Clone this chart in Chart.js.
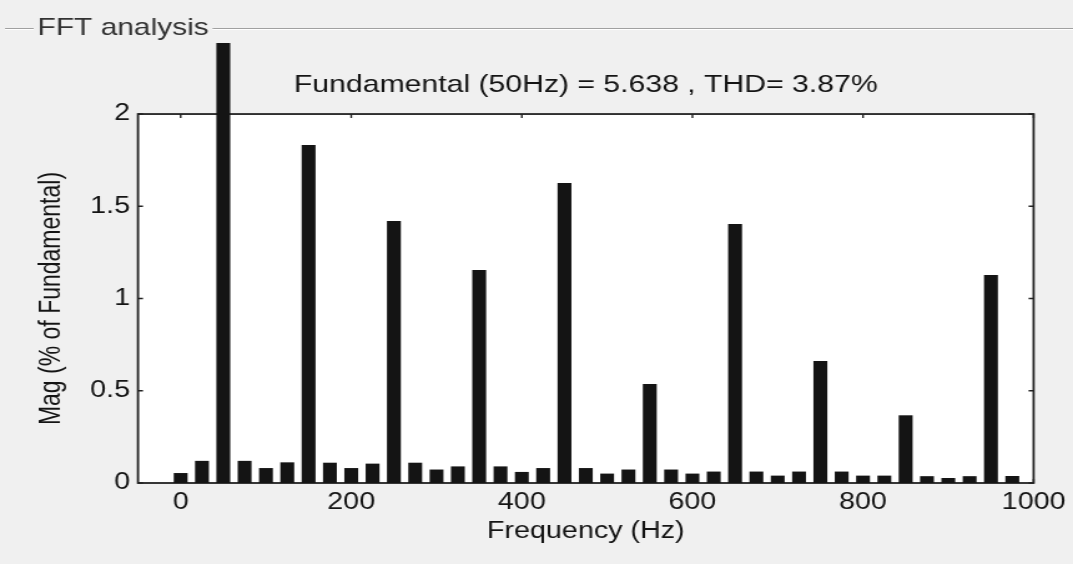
<!DOCTYPE html>
<html>
<head>
<meta charset="utf-8">
<script src="https://cdn.jsdelivr.net/npm/chart.js@4/dist/chart.umd.min.js"></script>
<style>
  html, body { margin: 0; padding: 0; background: #f0f0f0; overflow: hidden; }
</style>
</head>
<body>
<!-- the reference figure is stretched sideways, so the bitmap is too -->
<canvas id="fft" width="860" height="564" style="display:block;width:1073px;height:564px"></canvas>
<script>
// harmonic frequencies (Hz)
const freqs = [0, 25, 50, 75, 100, 125, 150, 175, 200, 225,
               250, 275, 300, 325, 350, 375, 400, 425, 450, 475,
               500, 525, 550, 575, 600, 625, 650, 675, 700, 725,
               750, 775, 800, 825, 850, 875, 900, 925, 950, 975];

// magnitude, % of fundamental (50 Hz bar is cut off in the picture)
const mags = [0.054, 0.12, 2.385, 0.12, 0.081, 0.112, 1.832, 0.11, 0.081, 0.105,
              1.42, 0.11, 0.073, 0.09, 1.154, 0.09, 0.06, 0.081, 1.626, 0.081,
              0.051, 0.073, 0.537, 0.073, 0.051, 0.062, 1.404, 0.062, 0.04, 0.062,
              0.661, 0.062, 0.04, 0.04, 0.367, 0.037, 0.027, 0.037, 1.127, 0.038];

const xTicks = [0, 200, 400, 600, 800, 1000];
const yTicks = [0, 0.5, 1, 1.5, 2];

const panelTitle = 'FFT analysis';
const chartTitle = 'Fundamental (50Hz) = 5.638 , THD= 3.87%';

const FONT = '"Liberation Sans", Arial, Helvetica, sans-serif';
const INK = '#141414';

// grey panel, etched frame line, white axes box
const panelFrame = {
    id: 'panelFrame',
    beforeDraw(chart) {
        const { ctx, chartArea: a } = chart;
        ctx.save();
        ctx.fillStyle = '#f0f0f0';
        ctx.fillRect(0, 0, chart.width, chart.height);

        ctx.font = '24px ' + FONT;
        ctx.textBaseline = 'middle';
        const tx = 30;
        const tw = ctx.measureText(panelTitle).width;
        ctx.fillStyle = '#a0a0a0';
        ctx.fillRect(4, 28, tx - 7, 1);
        ctx.fillRect(tx + tw + 3, 28, chart.width - tx - tw - 3, 1);
        ctx.fillStyle = '#ffffff';
        ctx.fillRect(4, 29, tx - 7, 1);
        ctx.fillRect(tx + tw + 3, 29, chart.width - tx - tw - 3, 1);
        ctx.fillStyle = '#333';
        ctx.fillText(panelTitle, tx, 28);

        ctx.fillStyle = '#ffffff';
        ctx.fillRect(a.left, a.top, a.right - a.left, a.bottom - a.top);
        ctx.restore();
    },
    beforeDatasetsDraw(chart) {
        const { ctx, chartArea: a, scales } = chart;
        ctx.save();
        ctx.strokeStyle = '#222';
        ctx.lineWidth = 1.8;
        ctx.strokeRect(a.left, a.top, a.right - a.left, a.bottom - a.top);
        ctx.lineWidth = 1.4;
        ctx.beginPath();
        xTicks.forEach(v => {
            const px = scales.x.getPixelForValue(v);
            ctx.moveTo(px, a.bottom); ctx.lineTo(px, a.bottom - 4);
            ctx.moveTo(px, a.top); ctx.lineTo(px, a.top + 4);
        });
        yTicks.forEach(v => {
            const py = scales.y.getPixelForValue(v);
            ctx.moveTo(a.left, py); ctx.lineTo(a.left + 4, py);
            ctx.moveTo(a.right, py); ctx.lineTo(a.right - 4, py);
        });
        ctx.stroke();
        ctx.restore();
    }
};

new Chart(document.getElementById('fft'), {
    type: 'bar',
    data: {
        datasets: [{
            data: freqs.map((f, i) => ({ x: f, y: mags[i] })),
            backgroundColor: INK,
            borderWidth: 0,
            barPercentage: 0.65,
            categoryPercentage: 1,
            clip: false
        }]
    },
    options: {
        responsive: false,
        devicePixelRatio: 1,
        animation: false,
        layout: { padding: { top: 71, left: 0, right: 29, bottom: 0 } },
        plugins: {
            legend: { display: false },
            tooltip: { enabled: false },
            title: {
                display: true,
                text: chartTitle,
                fullSize: false,
                color: INK,
                font: { family: FONT, size: 24.2, weight: 'normal', lineHeight: 1.2 },
                padding: { top: 0, bottom: 14 }
            }
        },
        scales: {
            x: {
                type: 'linear',
                min: -50,
                max: 1000,
                offset: false,
                grid: { display: false, drawTicks: false },
                border: { display: false },
                afterBuildTicks: (scale) => { scale.ticks = xTicks.map(v => ({ value: v })); },
                afterFit: (scale) => { scale.height = 81; },
                ticks: {
                    color: INK,
                    padding: 6,
                    maxRotation: 0,
                    font: { family: FONT, size: 23, lineHeight: 1.2 },
                    callback: (value) => String(value)
                },
                title: {
                    display: true,
                    text: 'Frequency (Hz)',
                    color: INK,
                    font: { family: FONT, size: 23, lineHeight: 1.2 },
                    padding: { top: 0, bottom: 19 }
                }
            },
            y: {
                min: 0,
                max: 2,
                grid: { display: false, drawTicks: false },
                border: { display: false },
                afterBuildTicks: (scale) => { scale.ticks = yTicks.map(v => ({ value: v })); },
                afterFit: (scale) => { scale.width = 110.6; },
                ticks: {
                    color: INK,
                    padding: 6.4,
                    font: { family: FONT, size: 23, lineHeight: 1.2 },
                    callback: (value) => String(value)
                },
                title: {
                    display: true,
                    text: 'Mag (% of Fundamental)',
                    color: INK,
                    font: { family: FONT, size: 23, lineHeight: 1.2 },
                    padding: { top: 28, bottom: 0 }
                }
            }
        }
    },
    plugins: [panelFrame]
});
</script>
</body>
</html>
